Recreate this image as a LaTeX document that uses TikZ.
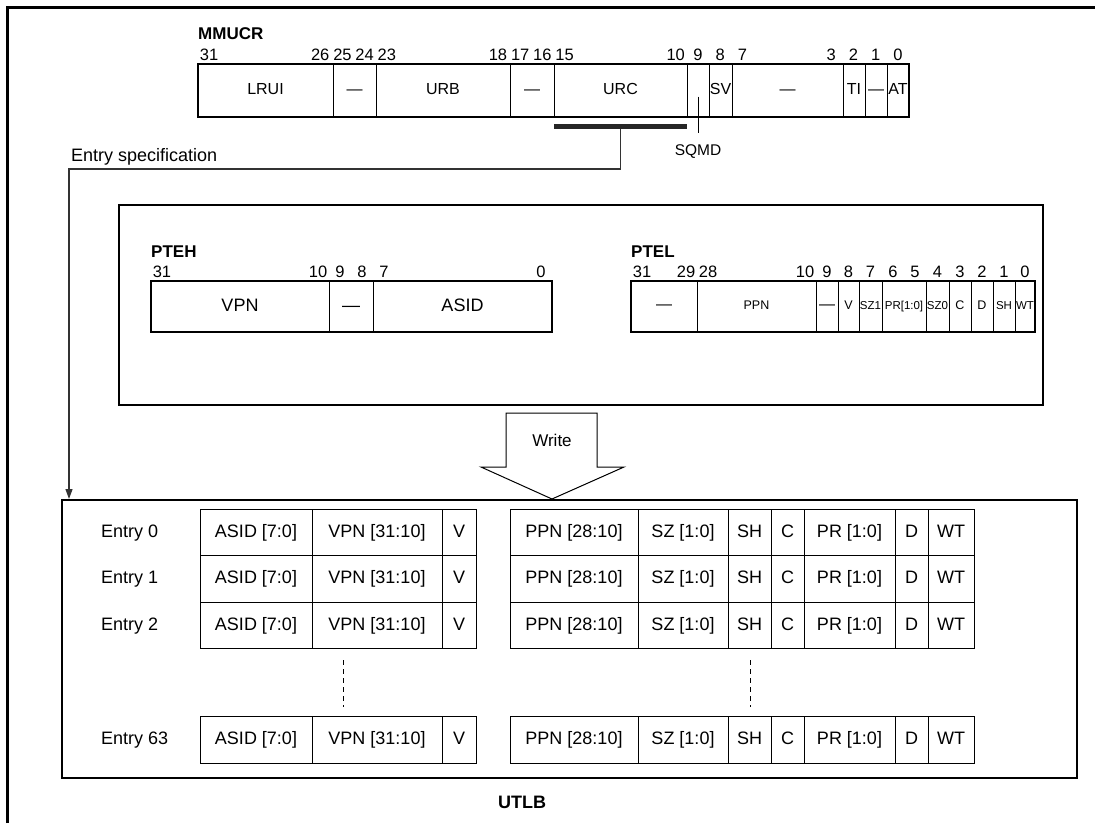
\documentclass[tikz,border=0pt]{standalone}
\usepackage{fontspec}
\setmainfont{Liberation Sans}
\usetikzlibrary{arrows.meta}

\begin{document}
\begin{tikzpicture}[x=1pt,y=-1pt,
    fld/.style={draw, line width=1pt, inner sep=0pt, outer sep=0pt, anchor=west},
    cell/.style={draw, line width=1pt, inner sep=0pt, outer sep=0pt, anchor=west,
      minimum height=46.5pt, text height=13pt, text depth=3.5pt, font=\fontsize{18}{20}\selectfont},
    bitno/.style={inner sep=0pt, font=\fontsize{16.5}{18}\selectfont},
    regname/.style={inner sep=0pt, anchor=west, font=\bfseries\fontsize{17}{19}\selectfont},
    boxframe/.style={line width=2.5pt},
    lbl/.style={inner sep=0pt, text height=13pt, text depth=3.5pt, font=\fontsize{18}{20}\selectfont}]
    \useasboundingbox (0,0) rectangle (1095,823);
    \draw[line width=3pt] (7,823) -- (7,7) -- (1095,7);

    % MMUCR
    \node[regname] (mmucr) at (198,34) {MMUCR};
    \foreach \xa/\xb/\txt/\nm in {198/333/LRUI/lrui, 333/376/—/m1, 376/510/URB/urb, 510/554/—/m2,
        554/687/URC/urc, 687/709//sqmdf, 709/732/SV/sv, 732/843/—/m3, 843/865/TI/ti, 865/887/—/m4, 887/909/AT/at}
        \node[fld, minimum height=53pt, minimum width=(\xb-\xa)*1pt, text height=11.5pt, text depth=3pt,
          font=\fontsize{16}{18}\selectfont] (\nm) at (\xa,90.5) {\txt};
    \draw[boxframe] (lrui.north west) rectangle (at.south east);
    \foreach \n in {31,26,25,24,23,18,17,16,15,10,9,8,7,3,2,1,0}
        \node[bitno] (mb\n) at ({198+(31.5-\n)*22.22},55) {\n};
    \node[fill=black!85, minimum width=133pt, minimum height=5pt, inner sep=0pt] (urcbar) at (620.5,126) {};
    \node[inner sep=0pt, anchor=north, font=\fontsize{15.5}{17}\selectfont] (sqmd) at (698,144) {SQMD};
    \draw[line width=1pt] ([yshift=-6pt]sqmdf.center) -- ([yshift=11pt]sqmd.north);

    % entry specification
    \node[lbl, anchor=base west] (espec) at (71,161) {Entry specification};
    \coordinate (turn) at (69,169);
    \coordinate (entry) at (69,499);
    \draw[line width=1.2pt, draw=black!80, -{Triangle[length=10pt,width=7pt]}] (urcbar.south) |- (turn) -- (entry);

    % PTEH and PTEL
    \draw[boxframe] (119,205) rectangle (1043,405);
    \node[regname] (pteh) at (151,252) {PTEH};
    \foreach \xa/\xb/\txt/\nm in {151/329/VPN/vpn, 329/373/—/h1, 373/552/ASID/asid}
        \node[fld, minimum height=51pt, minimum width=(\xb-\xa)*1pt, text height=13pt, text depth=3pt,
          font=\fontsize{18}{20}\selectfont] (\nm) at (\xa,306.5) {\txt};
    \draw[boxframe] (vpn.north west) rectangle (asid.south east);
    \foreach \x/\n in {162/31, 318/10, 340/9, 362/8, 384/7, 541/0}
        \node[bitno] (hb\n) at (\x,272) {\n};

    \node[regname] (ptel) at (631,252) {PTEL};
    \foreach \xa/\xb/\txt/\nm/\fs in {631/697/—/l1/16, 697/816/PPN/ppn/12.5, 816/838/—/l2/16, 838/859/V/v/12.5,
        859/882/SZ1/szone/11.5, 882/926/PR[1:0]/pr/11.5, 926/949/SZ0/szzero/11.5, 949/971/C/c/12.5, 971/993/D/d/12.5,
        993/1015/SH/sh/11.5, 1015/1035/WT/wt/11.5}
        \node[fld, minimum height=51pt, minimum width=(\xb-\xa)*1pt, text height=9pt, text depth=2.5pt,
          font=\fontsize{\fs}{\fs}\selectfont] (\nm) at (\xa,306.5) {\txt};
    \draw[boxframe] (l1.north west) rectangle (wt.south east);
    \foreach \x/\n in {642/31, 686/29, 708/28, 805/10, 827/9, 848.5/8, 870.5/7, 893/6, 915/5, 937.5/4,
        960/3, 982/2, 1004/1, 1025/0}
        \node[bitno] (lb\n) at (\x,272) {\n};

    % write arrow
    \draw[line width=1pt] (506,413) -- (597,413) -- (597,467) -- (624,467) -- (552,499) -- (481,467) -- (506,467) -- cycle;
    \node[lbl, font=\fontsize{17}{19}\selectfont] (write) at (552,442) {Write};

    % UTLB
    \draw[boxframe] (62,500) rectangle (1077,778);
    \foreach \y/\e in {532.5/0, 579/1, 625.5/2, 740/63} {
        \node[lbl, anchor=west] (entry\e) at (101,\y) {Entry \e};
        \foreach \xa/\xb/\txt/\nm in {200/312/ASID [7:0]/asid, 312/442/VPN [31:10]/vpn, 442/476/V/v,
            510/638/PPN [28:10]/ppn, 638/728/SZ [1:0]/sz, 728/771/SH/sh, 771/804/C/c, 804/895/PR [1:0]/pr,
            895/928/D/d, 928/974/WT/wt}
            \node[cell, minimum width=(\xb-\xa)*1pt] (\nm\e) at (\xa,\y) {\txt};
    }
    \draw[line width=1pt, dash pattern=on 5pt off 4pt] (343,660) -- (343,707);
    \draw[line width=1pt, dash pattern=on 5pt off 4pt] (750,660) -- (750,707);
    \node[regname, font=\bfseries\fontsize{18}{20}\selectfont] (utlb) at (498,802) {UTLB};
\end{tikzpicture}
\end{document}
